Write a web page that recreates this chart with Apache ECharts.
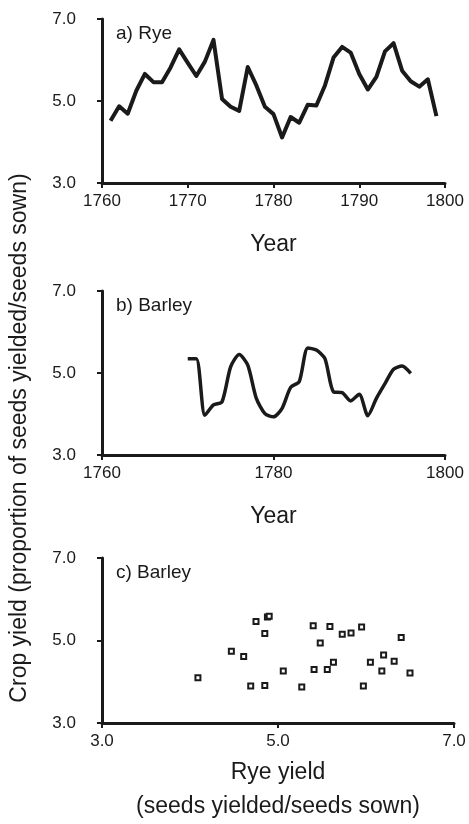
<!DOCTYPE html>
<html>
<head>
<meta charset="utf-8">
<script src="https://cdn.jsdelivr.net/npm/echarts@6/dist/echarts.min.js"></script>
<style>
  html, body { margin: 0; padding: 0; background: #fff; }
  #main { width: 469px; height: 824px; }
</style>
</head>
<body>
<div id="main"></div>
<script>
// a) rye yield per year
var ryeYears = [1761,1762,1763,1764,1765,1766,1767,1768,1769,1770,1771,1772,1773,1774,1775,1776,1777,1778,1779,1780,
                1781,1782,1783,1784,1785,1786,1787,1788,1789,1790,1791,1792,1793,1794,1795,1796,1797,1798,1799]
var ryeYield = [4.52,4.87,4.69,5.25,5.66,5.46,5.46,5.82,6.26,5.93,5.61,5.96,6.49,5.05,4.86,4.76,5.83,5.38,4.86,4.68,
                4.11,4.61,4.47,4.91,4.89,5.38,6.06,6.32,6.18,5.66,5.28,5.59,6.21,6.41,5.74,5.48,5.35,5.53,4.63]

// b) barley yield per year
var barleyYears = [1770,1771,1772,1773,1774,1775,1776,1777,1778,1779,1780,1781,1782,1783,1784,1785,1786,1787,1788,1789,
                   1790,1791,1792,1793,1794,1795,1796]
var barleyYield = [5.35,5.35,3.97,4.22,4.30,5.15,5.45,5.19,4.38,4.01,3.93,4.14,4.65,4.79,5.61,5.56,5.35,4.54,4.52,4.32,
                   4.48,3.96,4.38,4.74,5.09,5.17,4.99]

// c) barley vs rye
var scatterRye    = [4.09,4.47,4.61,4.69,4.75,4.85,4.85,4.88,4.90,5.06,5.27,5.40,5.41,5.48,5.56,5.59,5.63,5.73,5.83,5.95,5.97,6.05,6.18,6.20,6.32,6.40,6.50]
var scatterBarley = [4.10,4.74,4.61,3.90,5.46,5.17,3.91,5.57,5.59,4.26,3.87,5.36,4.30,4.94,4.30,5.34,4.47,5.15,5.18,5.33,3.90,4.47,4.26,4.65,4.50,5.07,4.21]

var ink = '#1a1a1a'
var fontFam = 'Liberation Sans, Arial, sans-serif'

function yAxisFor(gi) {
  return {
    type: 'value', gridIndex: gi, min: 3, max: 7, interval: 2,
    splitLine: { show: false },
    axisLine: { show: true, lineStyle: { color: ink, width: 3 } },
    axisTick: { show: true, length: 5, lineStyle: { color: ink, width: 2 } },
    axisLabel: { margin: 26, color: ink, fontSize: 17, fontFamily: fontFam,
                 formatter: function (v) { return v.toFixed(1) } }
  }
}

function xAxisFor(gi, min, max, step, name, gap, fmt) {
  return {
    type: 'value', gridIndex: gi, min: min, max: max, interval: step,
    name: name, nameLocation: 'middle', nameGap: gap,
    nameTextStyle: { color: ink, fontSize: 23, fontFamily: fontFam, lineHeight: 34 },
    splitLine: { show: false },
    axisLine: { show: true, onZero: false, lineStyle: { color: ink, width: 3 } },
    axisTick: { show: true, length: 5, lineStyle: { color: ink, width: 2 } },
    axisLabel: { margin: 10, color: ink, fontSize: 17, fontFamily: fontFam, formatter: fmt }
  }
}

var myChart = echarts.init(document.getElementById('main'))

var titleStyle = { color: ink, fontSize: 19, fontWeight: 'normal', fontFamily: fontFam }

var option = {
  animation: false,
  backgroundColor: '#fff',
  grid: [
    { left: 102, top: 19, width: 343, height: 164, outerBoundsMode: 'none' },
    { left: 102, top: 291, width: 343, height: 164, outerBoundsMode: 'none' },
    { left: 102, top: 558, width: 352, height: 165, outerBoundsMode: 'none' }
  ],
  title: [
    { text: 'a) Rye', left: 111, top: 19, textStyle: titleStyle },
    { text: 'b) Barley', left: 111, top: 291, textStyle: titleStyle },
    { text: 'c) Barley', left: 111, top: 558, textStyle: titleStyle }
  ],
  xAxis: [
    xAxisFor(0, 1760, 1800, 10, 'Year', 45, function (v) { return String(v) }),
    xAxisFor(1, 1760, 1800, 20, 'Year', 45, function (v) { return String(v) }),
    xAxisFor(2, 3, 7, 2, 'Rye yield\n(seeds yielded/seeds sown)', 33, function (v) { return v.toFixed(1) })
  ],
  yAxis: [yAxisFor(0), yAxisFor(1), yAxisFor(2)],
  graphic: [
    {
      type: 'text', x: 20, y: 438, rotation: Math.PI / 2,
      style: { text: 'Crop yield (proportion of seeds yielded/seeds sown)', fill: ink,
               font: '23px ' + fontFam, align: 'center', verticalAlign: 'middle' }
    }
  ],
  series: [
    {
      type: 'line', xAxisIndex: 0, yAxisIndex: 0, symbol: 'none',
      lineStyle: { color: ink, width: 4, join: 'round' },
      data: ryeYears.map(function (y, i) { return [y, ryeYield[i]] })
    },
    {
      type: 'line', xAxisIndex: 1, yAxisIndex: 1, symbol: 'none', smooth: 0.25,
      lineStyle: { color: ink, width: 3.5, join: 'round' },
      data: barleyYears.map(function (y, i) { return [y, barleyYield[i]] })
    },
    {
      type: 'scatter', xAxisIndex: 2, yAxisIndex: 2, symbol: 'rect', symbolSize: 5,
      itemStyle: { color: '#fff', borderColor: ink, borderWidth: 2, opacity: 1 },
      data: scatterRye.map(function (x, i) { return [x, scatterBarley[i]] })
    }
  ]
}

myChart.setOption(option)
</script>
</body>
</html>
